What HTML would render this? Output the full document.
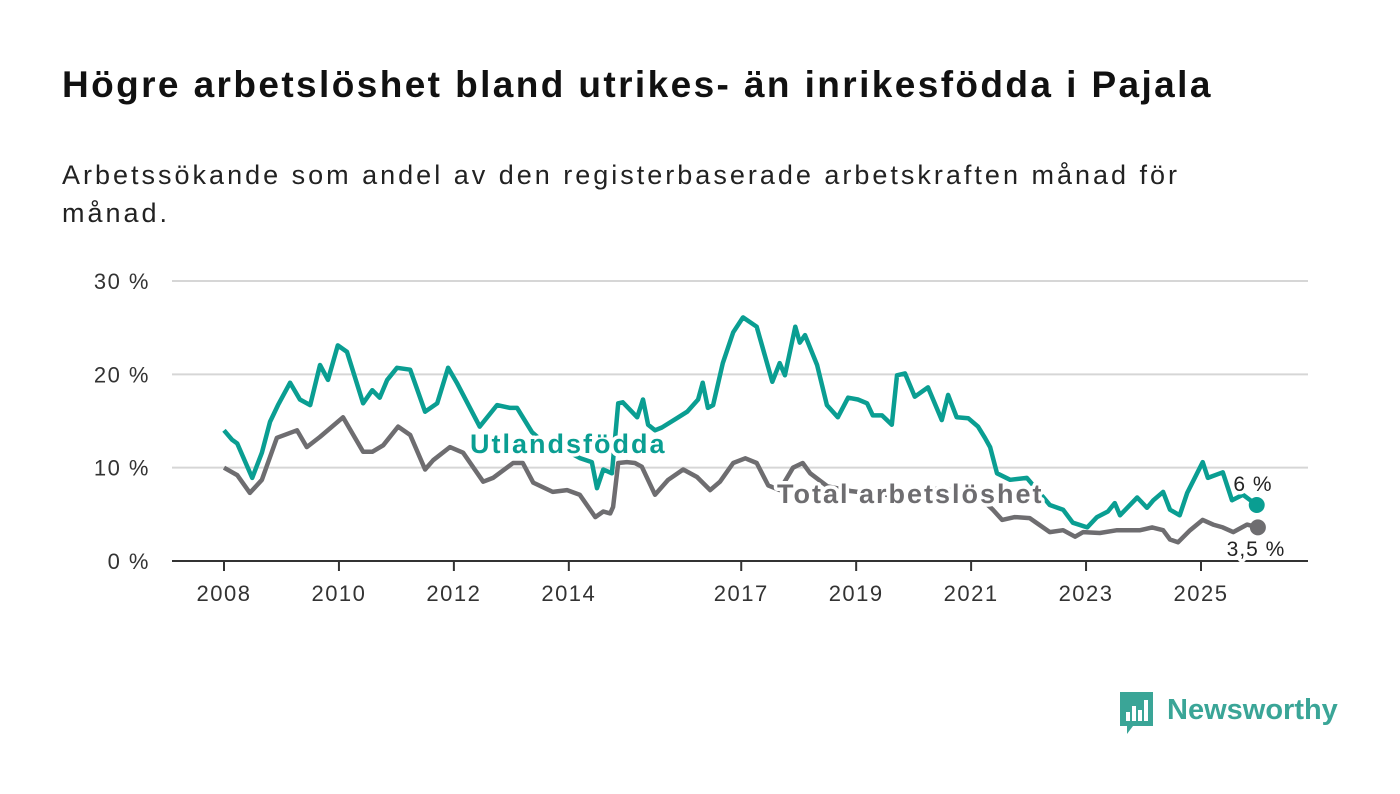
<!DOCTYPE html>
<html><head><meta charset="utf-8">
<style>
body{margin:0;background:#fff;width:1400px;height:794px;overflow:hidden;font-family:"Liberation Sans",sans-serif;}
#title{position:absolute;left:62px;top:64px;font-size:37px;letter-spacing:2.4px;font-weight:bold;color:#111;margin:0;white-space:nowrap;}
#sub{position:absolute;left:62px;top:156px;font-size:27px;letter-spacing:3px;color:#222;line-height:38px;width:1200px;margin:0;}
svg{position:absolute;left:0;top:0;}
</style></head><body>
<h1 id="title">Högre arbetslöshet bland utrikes- än inrikesfödda i Pajala</h1>
<p id="sub">Arbetssökande som andel av den registerbaserade arbetskraften månad för månad.</p>
<svg id="chart" width="1400" height="794"></svg>
<script>
const yTicks=[0,10,20,30];
const yTickLabels=["0 %","10 %","20 %","30 %"];
const xTicks=[2008,2010,2012,2014,2017,2019,2021,2023,2025];
const tealDates=[2008.0,2008.14,2008.23,2008.49,2008.66,2008.8,2008.94,2009.15,2009.32,2009.5,2009.67,2009.81,2009.98,2010.14,2010.42,2010.58,2010.71,2010.84,2011.01,2011.24,2011.5,2011.71,2011.9,2012.05,2012.45,2012.75,2012.98,2013.1,2013.36,2013.6,2013.9,2014.2,2014.4,2014.49,2014.6,2014.75,2014.86,2014.94,2015.19,2015.29,2015.38,2015.5,2015.62,2015.88,2016.06,2016.25,2016.33,2016.42,2016.51,2016.68,2016.86,2017.03,2017.27,2017.54,2017.67,2017.76,2017.94,2018.02,2018.11,2018.32,2018.49,2018.68,2018.86,2019.03,2019.19,2019.29,2019.45,2019.62,2019.71,2019.85,2020.02,2020.25,2020.49,2020.6,2020.75,2020.95,2021.12,2021.24,2021.33,2021.45,2021.68,2021.97,2022.37,2022.6,2022.77,2023.02,2023.19,2023.38,2023.5,2023.59,2023.89,2024.06,2024.17,2024.34,2024.46,2024.63,2024.76,2025.03,2025.12,2025.38,2025.54,2025.73,2025.97];
const tealValues=[14.0,13.0,12.6,8.9,11.6,14.9,16.7,19.1,17.3,16.7,21.0,19.4,23.1,22.4,16.9,18.3,17.5,19.4,20.7,20.5,16.0,16.9,20.7,19.1,14.4,16.7,16.4,16.4,13.8,12.5,12.0,11.0,10.6,7.8,9.8,9.4,16.9,17.0,15.4,17.3,14.6,14.0,14.3,15.3,16.0,17.3,19.1,16.4,16.7,21.2,24.5,26.1,25.1,19.2,21.2,19.9,25.1,23.4,24.2,21.0,16.7,15.4,17.5,17.3,16.9,15.6,15.6,14.6,19.9,20.1,17.6,18.6,15.1,17.8,15.4,15.3,14.4,13.2,12.2,9.4,8.7,8.9,6.0,5.5,4.1,3.6,4.7,5.3,6.2,4.9,6.8,5.7,6.5,7.4,5.5,4.9,7.3,10.6,8.9,9.5,6.5,7.1,6.0];
const grayDates=[2008.0,2008.23,2008.45,2008.66,2008.92,2009.27,2009.44,2009.67,2010.07,2010.42,2010.58,2010.77,2011.03,2011.24,2011.5,2011.64,2011.93,2012.16,2012.51,2012.68,2013.03,2013.2,2013.38,2013.72,2013.97,2014.19,2014.46,2014.6,2014.72,2014.77,2014.86,2015.01,2015.15,2015.27,2015.5,2015.73,2015.99,2016.23,2016.46,2016.63,2016.86,2017.07,2017.27,2017.47,2017.67,2017.9,2018.07,2018.2,2018.5,2018.9,2019.3,2019.7,2020.1,2020.5,2020.9,2021.2,2021.38,2021.54,2021.76,2022.02,2022.37,2022.6,2022.81,2022.95,2023.24,2023.54,2023.94,2024.15,2024.34,2024.46,2024.6,2024.81,2025.03,2025.21,2025.38,2025.56,2025.8,2025.99];
const grayValues=[10.0,9.2,7.3,8.7,13.2,14.0,12.2,13.3,15.4,11.7,11.7,12.4,14.4,13.5,9.8,10.8,12.2,11.6,8.5,8.9,10.5,10.5,8.4,7.4,7.6,7.1,4.7,5.3,5.1,5.8,10.5,10.6,10.5,10.1,7.1,8.7,9.8,9.0,7.6,8.5,10.5,11.0,10.5,8.1,7.6,10.0,10.5,9.4,8.0,7.5,7.2,7.0,7.5,7.8,7.2,6.5,5.5,4.4,4.7,4.6,3.1,3.3,2.6,3.1,3.0,3.3,3.3,3.6,3.3,2.3,2.0,3.3,4.4,3.9,3.6,3.1,3.9,3.6];

const NS="http://www.w3.org/2000/svg";
const svg=document.getElementById('chart');
const X=d=>224+(d-2008)*57.47;
const Y=v=>561-v*9.333;
function mk(tag,attrs,parent){const e=document.createElementNS(NS,tag);for(const k in attrs)e.setAttribute(k,attrs[k]);(parent||svg).appendChild(e);return e;}

yTicks.forEach((t,i)=>{
  if(t>0){const g=mk('line',{x1:172,x2:1308,y1:Y(t),y2:Y(t),stroke:'#d6d6d6','stroke-width':2});
  
  }
  const tx=mk('text',{x:150,y:Y(t)+8,'text-anchor':'end','font-size':22,'letter-spacing':1.5,fill:'#333','font-family':'Liberation Sans, sans-serif'});
  tx.textContent=yTickLabels[i];
  
  
});
const ax=mk('line',{x1:172,x2:1308,y1:561,y2:561,stroke:'#333','stroke-width':2});


xTicks.forEach(t=>{
  const tk=mk('line',{x1:X(t),x2:X(t),y1:561,y2:571,stroke:'#333','stroke-width':2});
  
  
  const tx=mk('text',{x:X(t),y:601,'text-anchor':'middle','font-size':22,'letter-spacing':1.5,fill:'#333','font-family':'Liberation Sans, sans-serif'});
  tx.textContent=t;
  
  
});
function line(dates,vals,color,name){
  const d=dates.map((x,i)=>(i?'L':'M')+X(x).toFixed(1)+','+Y(vals[i]).toFixed(1)).join('');
  const p=mk('path',{d:d,fill:'none',stroke:color,'stroke-width':4.5,'stroke-linejoin':'round'});
  
  
  const n=dates.length-1;
  const c=mk('circle',{cx:X(dates[n]),cy:Y(vals[n]),r:8,fill:color});
  
  
}
line(grayDates,grayValues,'#6e6d70','total-line');
line(tealDates,tealValues,'#0a9e92','foreign-born-line');
function label(x,y,txt,color,size,weight,name,anchor,ls){
  const t=mk('text',{x:x,y:y,fill:color,'font-size':size,'font-weight':weight,'letter-spacing':ls||0,stroke:'#fff','stroke-width':7,'paint-order':'stroke','stroke-linejoin':'round','text-anchor':anchor||'start','font-family':'Liberation Sans, sans-serif'});
  t.textContent=txt;
  
  
}
label(470,453,'Utlandsfödda','#0a9e92',27,'bold','series-label-foreign-born','start',2);
label(777,503,'Total arbetslöshet','#6e6d70',27,'bold','series-label-total','start',2);
label(1253,491,'6 %','#222',21,'normal','end-value-foreign-born','middle',1);
label(1256,556,'3,5 %','#222',21,'normal','end-value-total','middle',1);
const lg=mk('g',{});


mk('path',{d:'M1120,692 h33 v34 h-20 l-6,8 v-8 h-7 z',fill:'#3aa597'},lg);
[[1126,712,4,9],[1132,706,4,15],[1138,710,4,11],[1144,700,4,21]].forEach(r=>mk('rect',{x:r[0],y:r[1],width:r[2],height:r[3],fill:'#fff'},lg));
const lt=mk('text',{x:1167,y:719,fill:'#3aa597','font-size':29,'font-weight':'bold','font-family':'Liberation Sans, sans-serif'},lg);
lt.textContent='Newsworthy';
</script>
</body></html>
